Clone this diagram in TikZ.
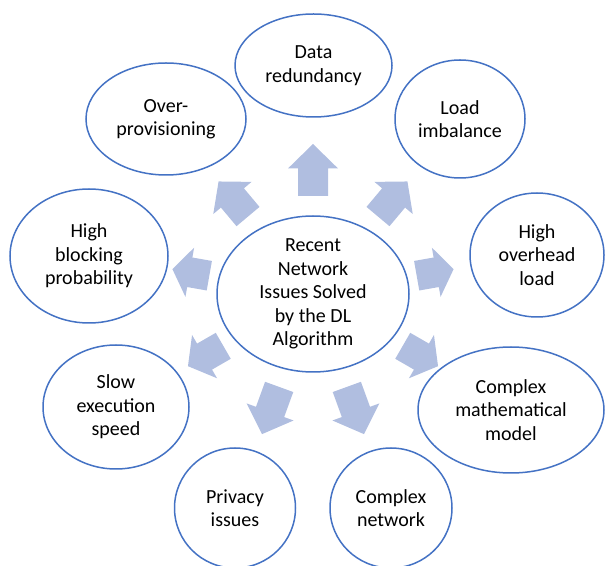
\documentclass[tikz,border=0pt]{standalone}
\usepackage{fontspec}
\setmainfont{Carlito}
\usetikzlibrary{shapes.geometric,calc}
\definecolor{ringblue}{RGB}{68,114,196}
\definecolor{arrowfill}{RGB}{176,190,224}
\begin{document}
\begin{tikzpicture}[x=1pt,y=1pt,
  bubble/.style={ellipse,draw=ringblue,line width=1.5pt,fill=white,inner sep=0pt,
     align=center,text=black,font=\fontsize{20}{23.5}\selectfont},
  blockarrow/.style={fill=arrowfill,draw=none}]
\useasboundingbox (0,0) rectangle (605,565);
% outer bubbles
\node[bubble,minimum width=157pt,minimum height=103pt] (data) at (313.5,499.5) {Data\\redundancy};
\node[bubble,minimum width=160pt,minimum height=112pt] (over) at (166,446) {Over-\\provisioning};
\node[bubble,minimum width=130pt,minimum height=118pt] (load) at (460,446) {Load\\imbalance};
\node[bubble,minimum width=134pt,minimum height=124pt] (overhead) at (537,310) {High\\overhead\\load};
\node[bubble,minimum width=158pt,minimum height=134pt] (block) at (89,309) {High\\blocking\\probability};
\node[bubble,minimum width=146pt,minimum height=124pt] (slow) at (116,158) {Slow\\execution\\speed};
\node[bubble,minimum width=186pt,minimum height=126pt] (math) at (511,155) {Complex\\mathematical\\model};
\node[bubble,minimum width=121pt,minimum height=120pt] (privacy) at (235,57) {Privacy\\issues};
\node[bubble,minimum width=122pt,minimum height=120pt] (network) at (391,57) {Complex\\network};
% centre
\node[bubble,minimum width=192pt,minimum height=156pt] (c) at (313,271) {Recent\\Network\\Issues Solved\\by the DL\\Algorithm};
% block arrows
\foreach \a in {90,130,170,210,250,290,330,370,410}{
  \pgfmathsetmacro\L{37+15*sin(\a)*sin(\a)}
  \pgfmathsetmacro\H{0.47*\L}
  \begin{scope}[shift={($(c.center)+(\a:124pt)$)},rotate=\a]
    \fill[blockarrow] (-\L/2,-15) -- (\L/2-\H,-15) -- (\L/2-\H,-25) -- (\L/2,0)
      -- (\L/2-\H,25) -- (\L/2-\H,15) -- (-\L/2,15) -- cycle;
  \end{scope}
}
\end{tikzpicture}
\end{document}
